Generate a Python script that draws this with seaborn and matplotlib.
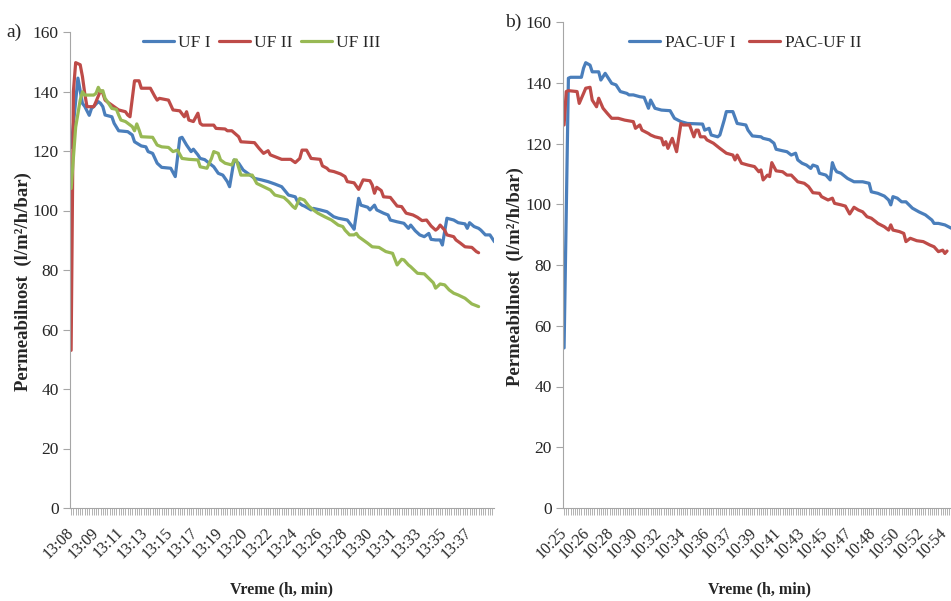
import matplotlib
matplotlib.use("Agg")
import matplotlib.pyplot as plt
import pandas as pd
import seaborn as sns
from matplotlib.ticker import MultipleLocator, FixedLocator

# ---------------- data (samples every 10 s) ----------------
# panel a) start 13:08
ufi_n = [0,3,5,6,8,9,10,12,13,14,15,18,19,21,25,27,28,31,33,34,36,38,40,44,46,48,49,51,53,54,
         56,57,59,61,63,65,67,69,70,72,74,76,78,80,81,84,87,90,93,96,99,100,102,103,106,107,110,113,116,118,
         122,124,125,127,128,131,132,134,135,138,140,141,144,147,149,150,152,154,156,158,159,161,163,164,166,169,171,174,175,176,
         178,180,181,183,185,187]
ufi_v = [121.2,144.5,136,135,132,134.3,135,136.6,136,134.9,132.1,131.5,129.3,126.8,126.5,125.4,123.1,121.7,121.4,119.8,
         119.2,115.9,114.5,114.2,111.4,124.3,124.6,122,119.8,120.6,118.7,117.5,117.1,115.9,114.7,112.5,111.9,109.7,108,117,
         115.9,113.6,112.5,111.4,110.8,110.3,109.7,108.9,108,105.2,104.6,103,101.8,101.5,100.2,100.7,100.2,99.6,97.9,97.4,
         96.8,94.8,93.7,104.1,101.8,101.1,100.2,101.8,100.2,99.1,98.5,96.8,96.2,95.7,94,95.1,93.2,91.8,91.2,92.3,
         90.3,90.1,90.1,88.4,97.4,96.8,95.9,95.5,94,95.9,94.6,94,93.4,91.8,91.8,89.5]

ufii_n = [0,1,2,4,5,6,7,10,11,13,14,15,16,21,24,25,26,28,30,31,35,37,38,39,43,45,48,50,51,52,
          54,56,57,58,63,64,68,69,71,74,75,81,83,85,87,88,90,93,97,99,101,102,104,106,110,111,113,114,116,119,
          121,122,125,127,129,132,133,134,135,137,138,141,144,146,148,151,153,155,157,159,161,162,163,165,166,169,170,172,174,177,
          179,180]
ufii_v = [53,140,149.7,149,145,139.4,134.9,134.9,136.6,140.3,139.4,137.1,136.5,133.8,133.2,132.1,131.5,143.6,143.6,141.1,
          141.1,138.3,137.1,137.7,137.1,133.8,133.5,131.5,133.2,130.4,129.9,132.7,129.3,128.7,128.7,127.6,127.4,126.8,126.8,124.8,
          123.1,122.8,120.9,119.2,120.1,118.7,118.1,117.2,117.2,116.1,117.5,120.3,120.3,117.5,117.2,115,114.2,113.4,113.1,112.3,
          111.4,109.7,109.3,107.1,110.3,110,108.6,105.8,107.8,106.7,104.6,104.4,101.5,101.3,99.1,98.5,97.7,96.6,96.8,94.8,
          93.4,94,95.1,93.4,91.8,91.2,90.1,89,87.8,87.6,86.2,85.8]

ufiii_n = [0,2,4,5,6,10,11,12,13,14,15,16,18,20,21,22,24,27,28,29,30,31,36,38,40,43,45,47,49,52,
           56,57,60,62,63,65,66,68,71,72,73,75,80,82,85,88,90,94,96,98,99,101,103,105,107,109,112,115,118,120,
           121,123,125,126,127,129,131,133,136,139,142,144,146,147,149,150,153,156,158,160,161,163,165,167,169,171,174,177,180]
ufiii_v = [107.4,128,137.1,139.9,138.8,138.8,139.4,141.4,139.9,140.3,137.7,136.6,134.3,134,132.1,130.4,129.9,128.2,126.8,129.1,
           127.1,124.8,124.6,122,121.4,121.2,119.8,120.3,117.5,117.2,117,114.7,114.2,117.5,119.8,119.2,117,115.9,115.3,117,
           117,111.9,111.9,109.1,108,106.9,105.2,104.4,103,101.3,100.7,104.1,103.5,101.5,100.2,99.1,97.9,96.8,95.1,94.6,
           93.4,91.8,91.8,92.3,91.2,90.1,89,87.8,87.6,86.2,85.6,81.7,83.6,83.4,81.7,81.1,78.9,78.7,77.2,75.7,
           73.9,75.3,75,73.3,72.2,71.6,70.5,68.6,67.7]

# panel b) start 10:25
pac1_n = [0,2,3,8,9,10,12,13,16,17,19,20,22,24,26,29,30,32,35,37,39,40,42,45,49,51,54,57,64,65,
          67,68,71,72,74,75,78,80,84,85,87,91,92,95,97,98,101,103,105,107,108,110,112,114,115,117,118,121,123,124,
          125,126,128,131,134,138,141,142,145,148,150,151,152,154,156,158,161,164,167,170,171,173,176,179]
pac1_v = [52.7,141.5,141.8,141.8,144.8,146.6,145.8,143.6,143.6,140.9,143.1,142,139.8,139.3,137.1,136.5,136,136,135.4,135.2,
          131.6,134.3,131.6,131,130.8,128.3,127.2,126.6,126.4,124.4,125,122.8,122.2,122.8,127.7,130.5,130.5,126.6,126.1,124.4,
          122.5,122.2,121.7,121.2,120.1,118.1,117.6,117.3,116.2,116.8,114.6,113.5,112.9,111.8,112.9,112.4,110.2,109.6,108,113.7,
          111.8,110.7,110.2,108.5,107.4,107.4,106.9,104.1,103.6,102.7,101.4,99.8,102.5,102,100.8,100.8,98.7,97.5,96.5,94.8,
          93.7,93.7,93.2,92.1]

pac2_n = [0,1,2,6,7,9,10,12,13,15,16,18,20,22,25,28,32,33,35,36,39,40,42,45,46,47,48,50,52,54,
          55,58,60,61,62,63,65,66,69,72,75,78,79,80,82,85,88,90,91,92,94,95,96,98,101,103,105,108,111,113,
          115,118,119,122,124,125,128,130,132,134,136,138,140,142,144,145,148,150,151,152,155,157,158,160,163,166,169,171,173,175,
          176,177]
pac2_v = [126.1,137.1,137.4,137.1,133.2,136.5,138.2,138.5,134.3,132.1,134.9,131.6,129.9,128.3,128.3,127.7,127.2,125,126.1,124.4,
          123.3,122.8,122.2,121.7,119.5,120.6,118.4,121.7,117.3,126.6,126.1,126.1,122.2,124.4,124.4,122.2,122.2,121.2,120.1,118.4,
          116.8,116.2,114.6,116.2,113.5,112.9,112.4,110.7,111.3,108,109.6,109.1,113.7,111,110.7,109.6,109.6,107.4,106.9,105.8,
          103.8,103.6,102.5,101.4,102,100.3,99.8,99.4,96.8,99,98.1,97.5,95.9,95.4,94.3,93.7,92.6,91.5,93.2,91.5,
          91,90.4,87.7,88.8,88,87.7,86.6,86,84.4,84.9,83.8,84.6]

labels_a = ["13:08","13:09","13:11","13:13","13:15","13:17","13:19","13:20","13:22",
            "13:24","13:26","13:28","13:30","13:31","13:33","13:35","13:37"]
labels_b = ["10:25","10:26","10:28","10:30","10:32","10:34","10:36","10:37","10:39",
            "10:41","10:43","10:45","10:47","10:48","10:50","10:52","10:54"]
LABEL_EVERY = 11   # one tick label every 11 samples (110 s)

series_a = [("UF I", ufi_n, ufi_v, "#4A7EBB"),
            ("UF II", ufii_n, ufii_v, "#BE4B48"),
            ("UF III", ufiii_n, ufiii_v, "#98B954")]
series_b = [("PAC-UF I", pac1_n, pac1_v, "#4A7EBB"),
            ("PAC-UF II", pac2_n, pac2_v, "#BE4B48")]

# ---------------- figure ----------------
sns.set_theme(style="white")
plt.rcParams['font.family'] = ['Liberation Serif', 'DejaVu Serif']

W, H = 951, 601
fig = plt.figure(figsize=(W / 100, H / 100), dpi=100)

def rect(x0, y0, x1, y1):
    return [x0 / W, 1 - y1 / H, (x1 - x0) / W, (y1 - y0) / H]

ax1 = fig.add_axes(rect(70, 32, 494, 508))
ax2 = fig.add_axes(rect(563, 22, 957, 508))

GREY = "#A6A6A6"

def style(ax, series, labels, xmax, lx, ly, ncol, colsp):
    for name, n, v, c in series:
        df = pd.DataFrame({"n": n, "v": v})
        sns.lineplot(data=df, x="n", y="v", ax=ax, color=c, lw=2.3, label=name)
    ax.set_xlim(-0.5, xmax)
    ax.set_ylim(0, 160)
    ax.set_yticks(range(0, 161, 20))
    ax.tick_params(axis="y", labelsize=12.5, length=5, width=0.8, color=GREY,
                   direction="out", left=True, pad=3)
    ax.xaxis.set_major_locator(FixedLocator([i * LABEL_EVERY for i in range(len(labels))]))
    ax.set_xticklabels(labels, rotation=45, ha="right", va="center",
                       rotation_mode="anchor", fontsize=11.5)
    ax.xaxis.set_minor_locator(MultipleLocator(1))
    ax.tick_params(axis="x", which="both", length=5, width=0.6, color=GREY,
                   direction="out", bottom=True, pad=11)
    for s in ("top", "right"):
        ax.spines[s].set_visible(False)
    for s in ("left", "bottom"):
        ax.spines[s].set_color(GREY)
        ax.spines[s].set_linewidth(0.8)
    ax.set_xlabel("Vreme (h, min)", fontsize=11.5, fontweight="bold")
    ax.set_ylabel("Permeabilnost  (l/m²/h/bar)", fontsize=13.5, fontweight="bold")
    ax.legend(loc="center", bbox_to_anchor=(lx, ly), ncol=ncol, frameon=False,
              fontsize=12.5, handlelength=1.8, handletextpad=0.25, columnspacing=colsp)
    ax.grid(False)

style(ax1, series_a, labels_a, 186.8, 0.452, 0.977, 3, 0.45)
style(ax2, series_b, labels_b, 181.6, 0.462, 0.957, 2, 0.8)

ax1.yaxis.set_label_coords(-0.090, 0.475)
ax1.xaxis.set_label_coords(0.5, -0.155)
ax2.yaxis.set_label_coords(-0.100, 0.477)
ax2.xaxis.set_label_coords(0.5, -0.152)

fig.text(14 / W, 1 - 32 / H, "a)", fontsize=14, ha="center", va="center")
fig.text(513 / W, 1 - 22 / H, "b)", fontsize=14, ha="center", va="center")

fig.savefig("out.png", dpi=100)
